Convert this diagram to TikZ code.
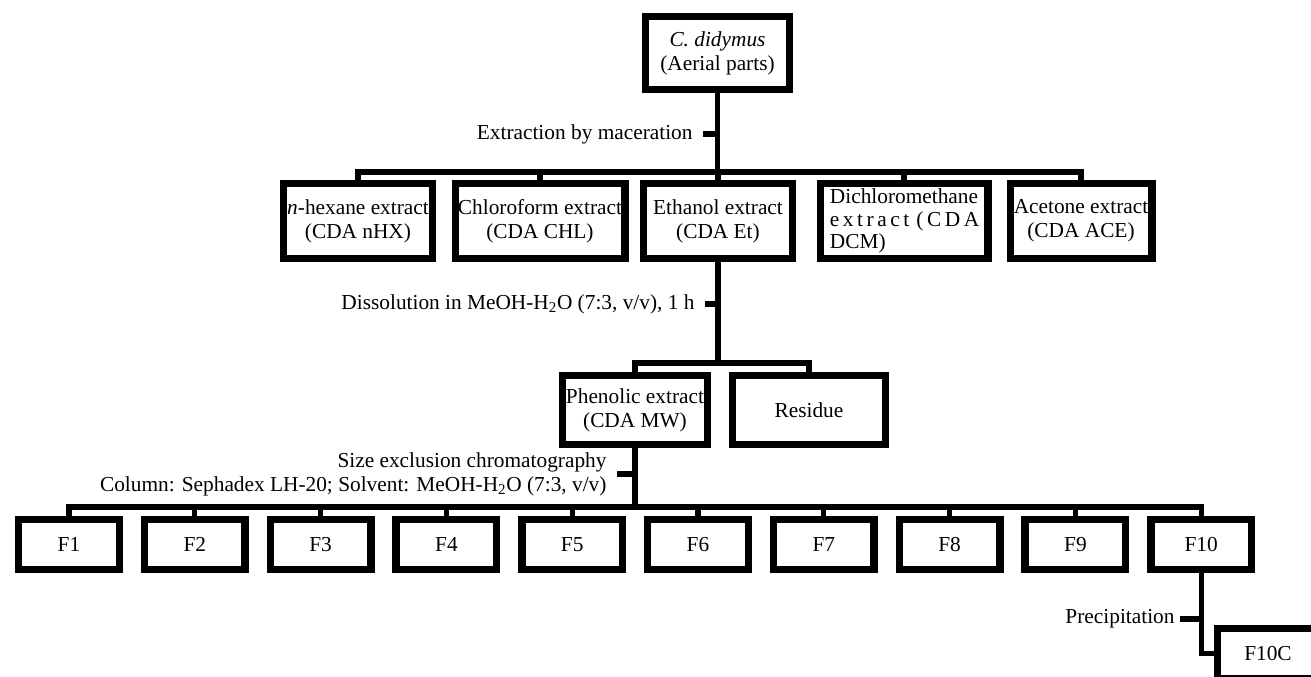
\documentclass[tikz,border=0pt]{standalone}
\usepackage{fontspec}
\setmainfont{Liberation Serif}

\tikzset{every picture/.style={line width=0.75pt}}
\tikzset{
  box/.style={draw, line width=5.5pt, inner sep=0pt, align=center, fill=white},
  rowbox/.style={box, minimum height=56pt},
  fbox/.style={box, minimum width=75.5pt, minimum height=37.25pt},
  conn/.style={line width=4pt},
  note/.style={inner xsep=7.5pt, inner ysep=0pt, anchor=east},
}

\begin{document}
\begin{tikzpicture}[x=0.75pt,y=0.75pt,yscale=-1,xscale=1,font=\fontsize{16}{18}\selectfont]
\useasboundingbox (0,0) rectangle (1311,676);
\clip (0,0) rectangle (1311,676);

%Shape: Rectangle [plant]
\node [box, minimum width=107.75pt, minimum height=54.5pt] (plant) at (717.5,53) {\textit{C. didymus}\\(Aerial parts)};

%Shape: Rectangle [first extracts]
\node [rowbox, minimum width=111.5pt] (nhx) at (358,221) {\textit{n}-hexane extract\\(CDA nHX)};
\node [rowbox, minimum width=127.25pt] (chl) at (540,221) {Chloroform extract\\(CDA CHL)};
\node [rowbox, minimum width=111.5pt] (eth) at (718,221) {Ethanol extract\\(CDA Et)};
\node [rowbox, minimum width=125.75pt, align=left, font=\fontsize{16}{17}\selectfont] (dcm) at (904,221) {Dichloromethane\\\makebox[6.94em][s]{e x t r a c t \ ( C D A}\\DCM)};
\node [rowbox, minimum width=106.25pt] (ace) at (1081,221) {Acetone extract\\(CDA ACE)};

%Shape: Rectangle [phenolic / residue]
\node [box, minimum width=108.5pt, minimum height=51.5pt] (phen) at (635,410) {Phenolic extract\\(CDA MW)};
\node [box, minimum width=114.5pt, minimum height=51.5pt] (res) at (809,410) {Residue};

%Shape: Rectangle [fractions]
\node [fbox] (f1) at (69,544.5) {F1};
\node [fbox] (f2) at (194.8,544.5) {F2};
\node [fbox] (f3) at (320.6,544.5) {F3};
\node [fbox] (f4) at (446.4,544.5) {F4};
\node [fbox] (f5) at (572.2,544.5) {F5};
\node [fbox] (f6) at (698,544.5) {F6};
\node [fbox] (f7) at (823.8,544.5) {F7};
\node [fbox] (f8) at (949.6,544.5) {F8};
\node [fbox] (f9) at (1075.4,544.5) {F9};
\node [fbox] (f10) at (1201.2,544.5) {F10};
\node [fbox] (f10c) at (1268,653.5) {F10C};

% bus levels
\coordinate (busA) at (0,172);
\coordinate (busB) at (0,363);
\coordinate (busC) at (0,507);

%Straight Lines [maceration]
\draw [conn] (plant.south) -- (plant.south |- busA);
\draw [conn] (nhx.north) |- (ace.north |- busA) -- (ace.north);
\draw [conn] (chl.north) -- (chl.north |- busA) (eth.north) -- (eth.north |- busA) (dcm.north) -- (dcm.north |- busA);

%Straight Lines [dissolution]
\draw [conn] (eth.south) -- (eth.south |- busB);
\draw [conn] (phen.north) |- (res.north |- busB) -- (res.north);

%Straight Lines [sephadex]
\draw [conn] (phen.south) -- (phen.south |- busC);
\draw [conn] (f1.north) |- (f10.north |- busC) -- (f10.north);
\draw [conn] (f2.north) -- (f2.north |- busC) (f3.north) -- (f3.north |- busC) (f4.north) -- (f4.north |- busC)
  (f5.north) -- (f5.north |- busC) (f6.north) -- (f6.north |- busC) (f7.north) -- (f7.north |- busC)
  (f8.north) -- (f8.north |- busC) (f9.north) -- (f9.north |- busC);

%Straight Lines [precipitation]
\draw [conn] (f10.south) |- (f10c.west);

% Text Node
\node [note] (lmac) at (703,134) {Extraction by maceration};
\draw [conn] (lmac.east) -- (lmac.east -| plant.south);
% Text Node
\node [note] (ldis) at (705,304) {Dissolution in MeOH-H\textsubscript{2}O (7:3, v/v), 1 h};
\draw [conn] (ldis.east) -- (ldis.east -| eth.south);
% Text Node
\node [note, align=right] (lsec) at (617,474) {Size exclusion chromatography\\Column: Sephadex LH-20; Solvent: MeOH-H\textsubscript{2}O (7:3, v/v)};
\draw [conn] (lsec.east) -- (lsec.east -| phen.south);
% Text Node
\node [note, inner xsep=3.75pt] (lpre) at (1180,619) {Precipitation};
\draw [conn] (lpre.east) -- (lpre.east -| f10.south);

\end{tikzpicture}
\end{document}
